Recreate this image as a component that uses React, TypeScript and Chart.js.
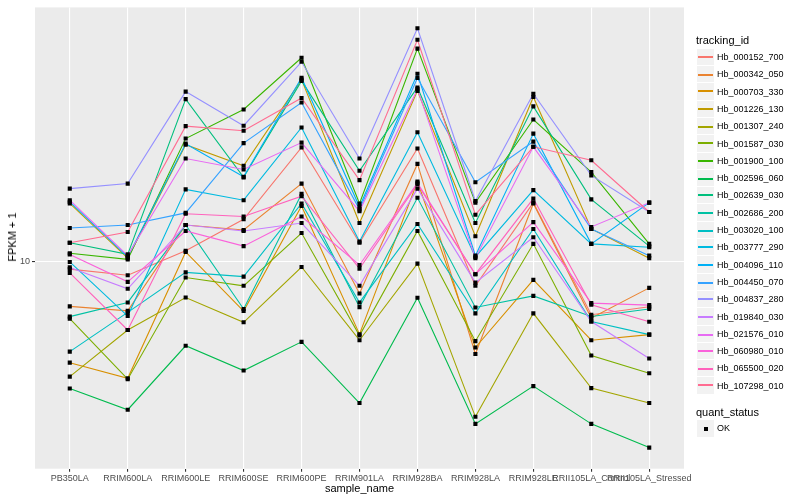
import React, { useEffect, useRef } from "react";
import { Chart, registerables } from "chart.js";

Chart.register(...registerables);

const FONT = '"Liberation Sans", Arial, Helvetica, sans-serif';

const categories = [
  "PB350LA", "RRIM600LA", "RRIM600LE", "RRIM600SE", "RRIM600PE", "RRIM901LA",
  "RRIM928BA", "RRIM928LA", "RRIM928LE", "RRII105LA_Control", "RRII105LA_Stressed",
];

const trackingIds = [
  "Hb_000152_700", "Hb_000342_050", "Hb_000703_330", "Hb_001226_130", "Hb_001307_240",
  "Hb_001587_030", "Hb_001900_100", "Hb_002596_060", "Hb_002639_030", "Hb_002686_200",
  "Hb_003020_100", "Hb_003777_290", "Hb_004096_110", "Hb_004450_070", "Hb_004837_280",
  "Hb_019840_030", "Hb_021576_010", "Hb_060980_010", "Hb_065500_020", "Hb_107298_010",
];

const seriesColors = [
  "#F8766D", "#EA8331", "#D89000", "#C09B00", "#A3A500", "#7CAE00", "#39B600",
  "#00BB4E", "#00BF7D", "#00C1A3", "#00BFC4", "#00BAE0", "#00B0F6", "#35A2FF",
  "#9590FF", "#C77CFF", "#E76BF3", "#FA62DB", "#FF62BC", "#FF6C91",
];

// FPKM + 1 per sample, in category order
const hb000152 = [9.46, 9.03, 10.9, 13.9, 24.2, 11.6, 24.0, 8.32, 15.8, 6.66, 7.08];
const hb000342 = [7.10, 6.86, 13.3, 12.8, 18.3, 7.84, 21.3, 4.92, 15.7, 6.49, 8.19];
const hb000703 = [4.60, 4.08, 10.8, 6.85, 15.4, 5.73, 18.6, 5.17, 8.71, 5.47, 5.71];
const hb001226 = [15.7, 10.3, 24.7, 21.0, 40.8, 13.5, 37.4, 12.2, 35.7, 12.9, 10.3];
const hb001307 = [4.13, 5.92, 7.60, 6.28, 9.62, 5.47, 9.87, 3.03, 6.73, 3.78, 3.37];
const hb001587 = [6.46, 4.05, 8.87, 8.32, 12.5, 5.67, 12.7, 5.43, 11.5, 4.86, 4.24];
const hb001900 = [10.7, 10.2, 25.9, 32.4, 48.3, 15.7, 51.8, 15.8, 30.0, 20.0, 11.5];
const hb002596 = [3.77, 3.20, 5.24, 4.33, 5.40, 3.37, 7.59, 2.87, 3.84, 2.87, 2.39];
const hb002639 = [11.6, 10.6, 35.1, 19.2, 40.4, 20.2, 38.4, 13.5, 33.2, 16.2, 11.3];
const hb002686 = [6.56, 7.32, 13.3, 6.96, 16.9, 7.06, 16.4, 7.04, 7.70, 6.57, 6.96];
const hb003020 = [5.01, 6.78, 9.23, 8.93, 15.7, 7.32, 13.4, 6.73, 12.9, 6.32, 5.71];
const hb003777 = [10.0, 6.59, 17.5, 16.1, 28.2, 11.7, 27.2, 10.4, 17.4, 11.5, 11.2];
const hb004096 = [15.9, 10.4, 24.9, 19.3, 41.4, 15.3, 42.7, 10.5, 26.9, 11.5, 15.8];
const hb004450 = [13.0, 13.3, 14.6, 25.0, 34.2, 15.0, 41.3, 18.5, 25.3, 12.9, 10.5];
const hb004837 = [17.6, 18.3, 37.2, 28.6, 46.8, 22.2, 60.6, 16.0, 36.6, 19.5, 14.7];
const hb019840 = [9.59, 8.13, 13.3, 12.7, 13.5, 8.32, 17.6, 8.53, 12.1, 6.32, 4.75];
const hb021576 = [16.1, 10.5, 22.2, 20.4, 25.1, 14.8, 37.9, 10.3, 24.3, 13.1, 15.8];
const hb060980 = [10.6, 8.58, 12.7, 11.3, 14.2, 9.77, 18.4, 9.10, 13.6, 7.28, 7.17];
const hb065500 = [9.19, 5.92, 14.5, 14.2, 16.6, 9.50, 18.2, 9.10, 16.3, 7.19, 6.31];
const hb107298 = [11.6, 12.6, 28.5, 27.5, 35.4, 18.8, 55.5, 14.4, 24.3, 21.9, 14.7];

const seriesValues = [
  hb000152, hb000342, hb000703, hb001226, hb001307, hb001587, hb001900, hb002596,
  hb002639, hb002686, hb003020, hb003777, hb004096, hb004450, hb004837, hb019840,
  hb021576, hb060980, hb065500, hb107298,
];

const yTicks = [10];
const yMin = 2.031;
const yMax = 71.2;

const panelBg = {
  id: "panelBg",
  beforeDraw(chart: any) {
    const { ctx, chartArea } = chart;
    if (!chartArea) return;
    ctx.save();
    ctx.fillStyle = "#EBEBEB";
    ctx.fillRect(chartArea.left, chartArea.top, chartArea.right - chartArea.left, chartArea.bottom - chartArea.top);
    ctx.restore();
  },
};

export default function App() {
  const ref = useRef<HTMLCanvasElement | null>(null);

  useEffect(() => {
    if (!ref.current) return;
    Chart.defaults.font.family = FONT;

    const lineSets = seriesValues.map((vals, s) => ({
      type: "line" as const,
      label: trackingIds[s],
      data: vals.map((v, i) => ({ x: i, y: v })),
      borderColor: seriesColors[s],
      backgroundColor: seriesColors[s],
      borderWidth: 1.1,
      pointRadius: 0,
      fill: false,
      tension: 0,
      order: 100 - s,
    }));

    const pointSet = {
      type: "scatter" as const,
      label: "OK",
      data: seriesValues.flatMap((vals) => vals.map((v, i) => ({ x: i, y: v }))),
      pointStyle: "rect" as const,
      pointRadius: 2.9,
      pointBackgroundColor: "#000000",
      pointBorderColor: "#000000",
      pointBorderWidth: 0,
      showLine: false,
      order: 0,
    };

    const chart = new Chart(ref.current, {
      type: "line",
      data: { datasets: [pointSet as any, ...lineSets] },
      plugins: [panelBg],
      options: {
        animation: false,
        responsive: false,
        devicePixelRatio: 1,
        layout: { padding: { left: 0, right: 116, top: 5.3, bottom: 0 } },
        plugins: { legend: { display: false }, tooltip: { enabled: false } },
        scales: {
          x: {
            type: "linear",
            min: -0.6,
            max: 10.6,
            afterBuildTicks: (scale: any) => {
              scale.ticks = categories.map((_, i) => ({ value: i }));
            },
            afterFit: (scale: any) => {
              scale.height = 31.3;
            },
            ticks: {
              autoSkip: false,
              maxRotation: 0,
              minRotation: 0,
              padding: 1.5,
              color: "#4D4D4D",
              font: { size: 9, family: FONT },
              callback: (v: any) => categories[Math.round(Number(v))] ?? "",
            },
            grid: { color: "#FFFFFF", lineWidth: 1.1, tickColor: "#333333", tickLength: 3, drawOnChartArea: true },
            border: { display: false },
          },
          y: {
            type: "logarithmic",
            min: yMin,
            max: yMax,
            afterBuildTicks: (scale: any) => {
              scale.ticks = yTicks.map((v) => ({ value: v }));
            },
            afterFit: (scale: any) => {
              scale.width = 35;
            },
            ticks: {
              padding: 2,
              color: "#4D4D4D",
              font: { size: 9, family: FONT },
              callback: (v: any) => String(v),
            },
            grid: { color: "#FFFFFF", lineWidth: 1.1, tickColor: "#333333", tickLength: 3 },
            border: { display: false },
          },
        },
      },
    });
    return () => chart.destroy();
  }, []);

  const rowTop = 48.7;
  const rowH = 17.3;
  const rowY = (s: number) => Math.round(rowTop + s * rowH);

  return (
    <div style={{ position: "fixed", left: 0, top: 0, width: 800, height: 500, background: "#FFFFFF", fontFamily: FONT }}>
      <canvas ref={ref} width={800} height={500} style={{ position: "absolute", left: 0, top: 0, width: 800, height: 500 }} />
      <div style={{ position: "absolute", left: 359.5, top: 481, transform: "translateX(-50%)", fontSize: 11, color: "#000", lineHeight: "14px", whiteSpace: "nowrap" }}>
        sample_name
      </div>
      <div style={{ position: "absolute", left: 12, top: 237, transform: "translate(-50%, -50%) rotate(-90deg)", fontSize: 11, whiteSpace: "nowrap", color: "#000", lineHeight: "14px" }}>
        FPKM + 1
      </div>
      <div style={{ position: "absolute", left: 696, top: 33, fontSize: 11, color: "#000", lineHeight: "14px", whiteSpace: "nowrap" }}>
        tracking_id
      </div>
      {trackingIds.map((id, s) => {
        const top = rowY(s);
        const h = rowY(s + 1) - top;
        const lineTop = (top + 7) % 2 === 0 ? 7 : 8;
        return (
          <div key={id} style={{ position: "absolute", left: 697, top, height: h, width: 100 }}>
            <div style={{ position: "absolute", left: 0, top: 0, width: 17, height: h - 1, background: "#F2F2F2" }}>
              <div style={{ position: "absolute", left: 1, width: 15, top: lineTop, height: 2, background: seriesColors[s] }} />
            </div>
            <div style={{ position: "absolute", left: 20, top: 0, height: h, lineHeight: h + "px", fontSize: 9, color: "#000", whiteSpace: "nowrap" }}>{id}</div>
          </div>
        );
      })}
      <div style={{ position: "absolute", left: 696, top: 405, fontSize: 11, color: "#000", lineHeight: "14px", whiteSpace: "nowrap" }}>
        quant_status
      </div>
      <div style={{ position: "absolute", left: 697, top: 420, height: 17, width: 100 }}>
        <div style={{ position: "absolute", left: 0, top: 0, width: 17, height: 17, background: "#F2F2F2" }}>
          <div style={{ position: "absolute", left: 7, top: 7, width: 4, height: 4, background: "#000" }} />
        </div>
        <div style={{ position: "absolute", left: 20, top: 0, height: 17, lineHeight: "17px", fontSize: 9, color: "#000", whiteSpace: "nowrap" }}>OK</div>
      </div>
    </div>
  );
}
